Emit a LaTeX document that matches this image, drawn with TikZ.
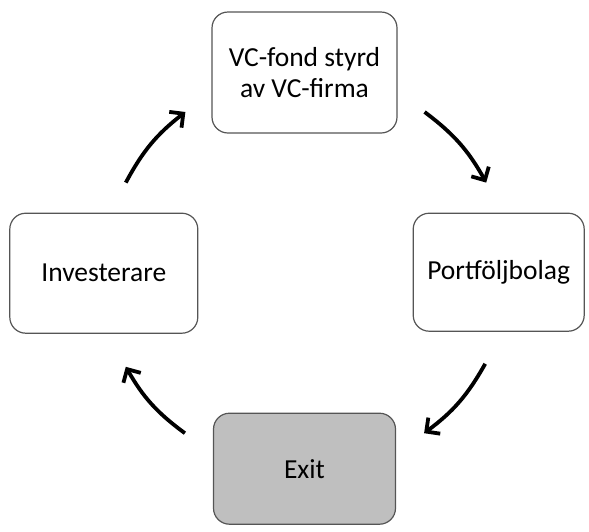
\documentclass[tikz,border=0pt]{standalone}
\usepackage{fontspec}
\setmainfont{Carlito}
\usetikzlibrary{arrows.meta, positioning}
\definecolor{boxLine}{RGB}{85, 85, 85}
\definecolor{exitColor}{RGB}{191, 191, 191}

\begin{document}
\begin{tikzpicture}[node distance=79pt,
    stage/.style={rectangle, rounded corners=16pt, draw=boxLine, line width=1.2pt, fill=white, font=\fontsize{27.5}{31}\selectfont, align=center, inner sep=0pt},
    flow/.style={-{Straight Barb[length=10pt, width=20pt]}, line width=3.8pt, bend left=12}]

    \useasboundingbox (0,0) rectangle (589pt,-531pt);

    \node (fund) [stage, minimum width=185pt, minimum height=121pt] at (304.5pt,-72.5pt) {VC-fond styrd\\av VC-firma};
    \node (inv) [stage, minimum width=188pt, minimum height=120pt, below left=79pt and 13pt of fund.south west] {Investerare};
    \node (port) [stage, minimum width=171pt, minimum height=118pt, below right=79pt and 15pt of fund.south east] {Portföljbolag};
    \node (exit) [stage, fill=exitColor, minimum width=182pt, minimum height=111pt, below=279pt of fund.south] {Exit};

    % free ends of the cycle arrows
    \coordinate (invOut) at ([shift={(22pt,30pt)}]inv.north);
    \coordinate (fundIn) at ([shift={(-26pt,-39.5pt)}]fund.west);
    \coordinate (fundOut) at ([shift={(27pt,-39.5pt)}]fund.east);
    \coordinate (portIn) at ([shift={(-12.5pt,30pt)}]port.north);
    \coordinate (portOut) at ([shift={(-13.5pt,-32pt)}]port.south);
    \coordinate (exitIn) at ([shift={(28pt,35.5pt)}]exit.east);
    \coordinate (exitOut) at ([shift={(-28pt,35.5pt)}]exit.west);
    \coordinate (invIn) at ([shift={(22pt,-33pt)}]inv.south);

    \draw[flow] (invOut) to (fundIn);
    \draw[flow] (fundOut) to (portIn);
    \draw[flow] (portOut) to (exitIn);
    \draw[flow] (exitOut) to (invIn);

\end{tikzpicture}
\end{document}
